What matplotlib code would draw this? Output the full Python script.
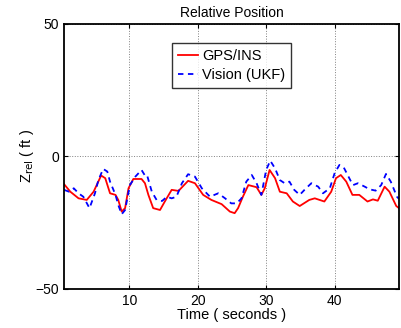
import matplotlib
matplotlib.use("Agg")
import matplotlib.pyplot as plt
import numpy as np

plt.rcParams['font.family'] = ['Liberation Sans', 'DejaVu Sans']

# GPS/INS (red solid)
t_gps = [0.5, 1.4, 2.6, 3.8, 4.8, 5.9, 6.5, 7.2, 8.0, 8.4, 8.9, 9.4, 9.9,
         10.6, 11.8, 12.3, 12.8, 13.5, 14.5, 15.2, 16.2, 17.2, 18.6, 19.6,
         20.8, 22.0, 23.5, 24.7, 25.4, 25.9, 26.6, 27.4, 28.6, 29.3, 29.8,
         30.5, 31.3, 32.0, 33.0, 33.9, 34.9, 36.3, 37.1, 38.5, 39.5, 40.2,
         40.9, 41.7, 42.6, 43.6, 44.8, 45.6, 46.3, 47.3, 48.0, 49.0, 49.4]
z_gps = [-10.5, -13.3, -15.8, -16.4, -13.3, -7.2, -8.2, -13.9, -14.5, -16.4,
         -20.8, -19.5, -12.0, -8.5, -8.5, -10.1, -14.5, -19.5, -20.2, -17.0,
         -12.6, -13.0, -9.2, -10.1, -14.5, -16.4, -18.0, -20.8, -21.4, -19.5,
         -15.2, -10.8, -11.6, -14.5, -12.0, -5.1, -8.2, -13.3, -13.9, -17.0,
         -18.7, -16.4, -15.8, -17.0, -13.3, -8.2, -7.0, -9.5, -14.5, -14.5,
         -17.0, -16.2, -16.7, -11.4, -13.3, -18.7, -19.5]

# Vision (UKF) (blue dashed)
t_vis = [0.5, 1.2, 1.9, 2.6, 3.3, 4.2, 5.0, 5.5, 6.2, 6.8, 7.2, 8.0, 8.4,
         8.9, 9.4, 10.1, 10.9, 11.8, 12.3, 12.6, 13.3, 14.0, 14.8, 15.5,
         16.2, 16.9, 17.7, 18.6, 19.6, 20.6, 21.8, 23.0, 24.0, 24.9, 25.7,
         26.4, 27.1, 27.9, 28.6, 29.3, 30.0, 30.6, 31.3, 32.0, 32.7, 33.4,
         34.1, 34.9, 35.6, 36.6, 37.6, 38.3, 39.3, 40.0, 40.7, 41.4, 42.4,
         42.7, 43.4, 44.4, 45.1, 46.0, 46.8, 47.5, 48.2, 49.1, 49.4]
z_vis = [-12.6, -13.3, -12.0, -13.9, -15.2, -19.5, -13.9, -8.9, -4.7, -5.7,
         -9.5, -14.5, -18.3, -21.8, -20.2, -10.8, -7.6, -5.1, -7.2, -7.0,
         -13.3, -16.4, -16.8, -15.2, -15.8, -15.2, -10.1, -6.7, -7.6, -12.0,
         -15.2, -13.9, -15.8, -17.7, -17.7, -15.8, -9.5, -7.0, -10.1, -14.5,
         -5.1, -1.6, -4.5, -8.9, -10.1, -9.5, -12.6, -14.5, -12.6, -10.1,
         -11.4, -13.9, -12.0, -6.3, -3.2, -4.5, -9.5, -10.8, -10.1, -11.4,
         -12.4, -12.9, -10.8, -6.6, -9.5, -15.2, -16.0]

fig = plt.figure(figsize=(4.01, 3.28), dpi=100)
ax = fig.add_axes([0.160, 0.119, 0.835, 0.808])
ax.plot(t_gps, z_gps, color='red', lw=1.3, label='GPS/INS')
ax.plot(t_vis, z_vis, color='blue', lw=1.3, ls='--', dashes=(3, 2.5),
        label='Vision (UKF)')

ax.set_xlim(0.5, 49.4)
ax.set_ylim(-50, 50)
ax.set_xticks([10, 20, 30, 40])
ax.set_yticks([-50, 0, 50])
ax.set_yticklabels(['\u221250', '0', '50'])
ax.grid(True, color='gray', ls=':', lw=0.7)
ax.tick_params(direction='in', top=True, right=True, labelsize=10, length=3)
for s in ax.spines.values():
    s.set_linewidth(1.3)

ax.set_title('Relative Position', fontsize=10, pad=5)
ax.set_xlabel('Time ( seconds )', fontsize=10.5, labelpad=0)
ax.set_ylabel('Z$_{\\rm rel}$ ( ft )', fontsize=10.5, labelpad=0)

leg = ax.legend(loc='upper center', bbox_to_anchor=(0.5, 0.955), fontsize=10.5,
                frameon=True, fancybox=False, handlelength=1.4,
                borderpad=0.4, labelspacing=0.35, handletextpad=0.3)
leg.get_frame().set_edgecolor('black')
leg.get_frame().set_linewidth(1.0)

fig.savefig('out.png', dpi=100)
